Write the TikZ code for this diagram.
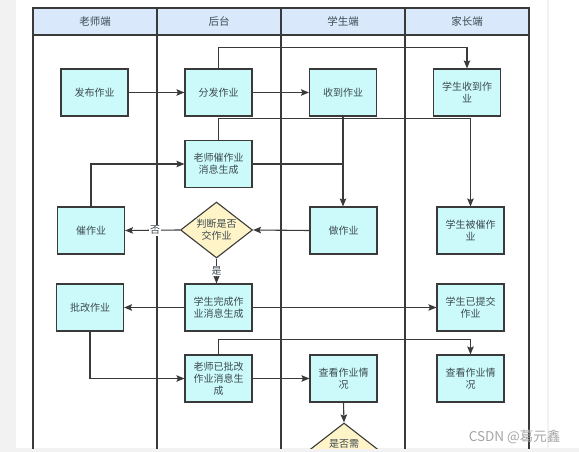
\documentclass[tikz,border=0pt]{standalone}
\usepackage{fontspec}
\setmainfont{Noto Sans CJK SC}
\usetikzlibrary{arrows.meta,shapes.geometric}
\definecolor{headfill}{HTML}{DAE8FC}
\definecolor{boxfill}{HTML}{CCFAFA}
\definecolor{dmdfill}{HTML}{FFF4C8}
\definecolor{linec}{HTML}{3A3A3A}
\definecolor{txtc}{HTML}{3C4A50}
\definecolor{pagebg}{HTML}{F2F2F2}
\tikzset{
  procbox/.style={draw=linec, line width=1.1pt, fill=boxfill, minimum width=67pt, minimum height=47pt,
    inner sep=1pt, text width=60pt, align=center, font=\fontsize{10}{12}\selectfont, text=txtc},
  decide/.style={diamond, draw=linec, line width=1.1pt, fill=dmdfill, minimum width=72pt, minimum height=56pt,
    inner sep=0pt, aspect=1.3, align=center, font=\fontsize{10}{12}\selectfont, text=txtc},
  flow/.style={draw=linec, line width=1.1pt, -{Stealth[length=8pt,width=6.5pt,inset=1.5pt]}},
  plain/.style={draw=linec, line width=1.1pt},
  lane/.style={draw=linec, line width=1.2pt},
  headtxt/.style={font=\fontsize{10.5}{12}\selectfont, text=txtc},
  edgelbl/.style={fill=white, inner sep=1pt, font=\fontsize{10}{12}\selectfont, text=txtc}
}
\begin{document}
\begin{tikzpicture}[x=1pt,y=-1pt]
\useasboundingbox (0,0) rectangle (579,452);
\fill[pagebg] (0,0) rectangle (579,452);
\fill[white] (16,0) rectangle (547,448);
\fill[white] (549,0) rectangle (579,448);
\begin{scope}
\clip (16,0) rectangle (547,448);
% header
\fill[headfill] (33,8) rectangle (529,35);
\draw[lane] (33,449) -- (33,8) -- (529,8) -- (529,449);
\draw[lane] (33,35) -- (529,35);
\foreach \xx in {157,281,405} \draw[lane] (\xx,8) -- (\xx,449);
\node[headtxt] (h1) at (95,21.5) {老师端};
\node[headtxt] (h2) at (219,21.5) {后台};
\node[headtxt] (h3) at (343,21.5) {学生端};
\node[headtxt] (h4) at (467,21.5) {家长端};
% nodes
\node[procbox] (fabu) at (94.5,92.5) {发布作业};
\node[procbox] (fenfa) at (218.5,92.5) {分发作业};
\node[procbox] (shoudao) at (343,92.5) {收到作业};
\node[procbox] (psd) at (467,92.5) {学生收到作\\业};
\node[procbox] (cuixx) at (218.5,164) {老师催作业\\消息生成};
\node[procbox] (cui) at (91,230.5) {催作业};
\node[decide] (judge) at (216.5,230) {判断是否\\交作业};
\node[procbox] (zuo) at (343.5,230.5) {做作业};
\node[procbox] (pbc) at (470.5,230.5) {学生被催作\\业};
\node[procbox] (pigai) at (90,307.5) {批改作业};
\node[procbox] (wancheng) at (218.5,307.5) {学生完成作\\业消息生成};
\node[procbox] (ytj) at (470.5,307.5) {学生已提交\\作业};
\node[procbox] (ypg) at (218.5,378.5) {老师已批改\\作业消息生\\成};
\node[procbox] (ck1) at (343.5,378.5) {查看作业情\\况};
\node[procbox] (ck2) at (470.5,378.5) {查看作业情\\况};
\node[decide] (need) at (344,451) {};
\node[text=txtc, font=\fontsize{10}{12}\selectfont] (needtxt) at (344,444) {是否需};
% connectors
\draw[flow] (fabu) -- (fenfa);
\draw[flow] (fenfa) -- (shoudao);
\draw[flow] (fenfa.north) -- ++(0,-21) -| (psd.north);
\draw[flow] (cuixx.north) -- ++(0,-21) -| (pbc.north);
\draw[flow] (shoudao.south) -- (shoudao.south |- zuo.north);
\draw[plain] (cuixx.east) -- (shoudao.south |- cuixx.east);
\draw[flow] (cui.north) |- (cuixx.west);
\draw[flow] (judge.west) -- node[edgelbl, pos=0.45] {否} (cui.east);
\draw[flow] (zuo.west) -- (judge.east);
\draw[flow] (judge.south) -- node[edgelbl, pos=0.5] {是} (judge.south |- wancheng.north);
\draw[flow] (wancheng.west) -- (pigai.east);
\draw[flow] (wancheng.east) -- (ytj.west);
\draw[flow] (pigai.south) |- (ypg.west);
\draw[flow] (ypg.north) -- ++(0,-15) -| (ck2.north);
\draw[flow] (ypg.east) -- (ck1.west);
\draw[flow] (ck1.south) -- (need.north);
\end{scope}
\node[text=black!35, font=\fontsize{13.5}{14}\selectfont, anchor=east] (wm) at (564,437) {CSDN @葛元鑫};
\end{tikzpicture}
\end{document}
